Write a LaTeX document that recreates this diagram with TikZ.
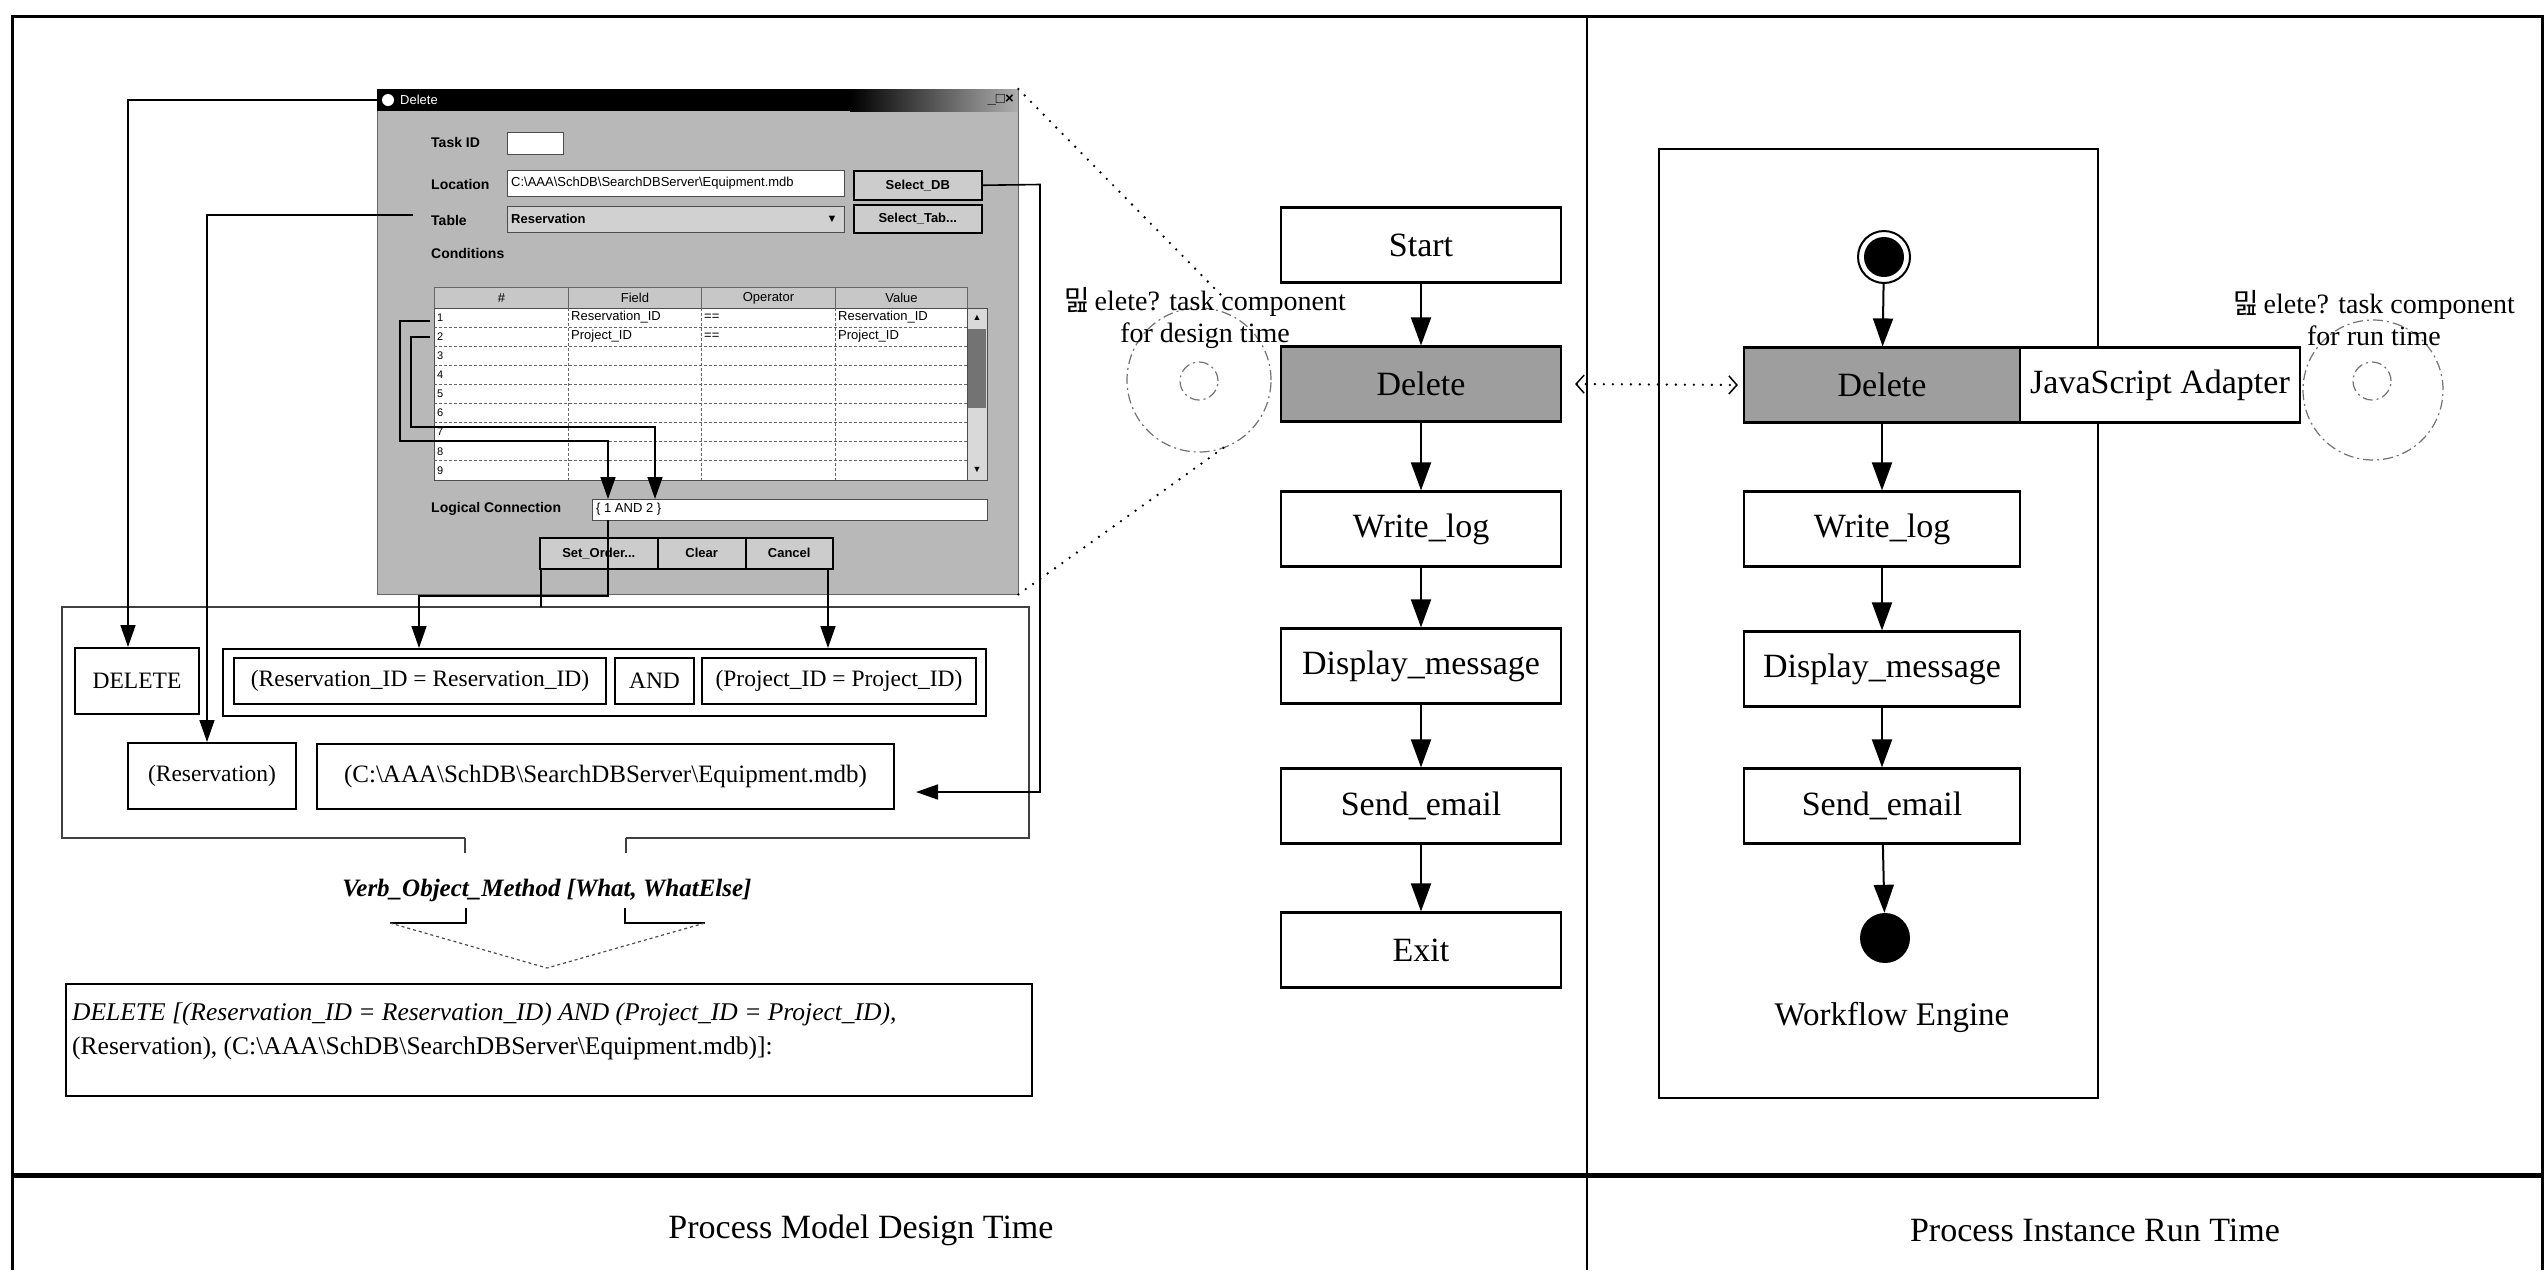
\documentclass[tikz,border=0pt]{standalone}
\usepackage{fontspec}
\setmainfont{Liberation Serif}
\newfontfamily\uifont{Liberation Sans}
\newfontfamily\krfont{Noto Sans CJK KR}
\usetikzlibrary{arrows.meta,calc}

% place a rectangular node by its top-left and bottom-right corners
\newcommand\rectnode[7]{%
  \node[#1, anchor=north west, minimum width={(#5-#3)*1pt}, minimum height={(#6-#4)*1pt}] (#2) at (#3,#4) {#7};}

\tikzset{
  frameline/.style={line width=3pt},
  flowbox/.style={draw, line width=2.2pt, fill=white, minimum width=280pt, minimum height=75pt,
    inner sep=0pt, font=\fontsize{34}{37}\selectfont},
  activebox/.style={flowbox, fill=black!38},
  flowarrow/.style={line width=2pt, -{Triangle[length=28pt,width=20pt]}},
  thinarrow/.style={line width=1.6pt, -{Triangle[length=22pt,width=15pt]}},
  wire/.style={line width=1.6pt},
  termbox/.style={draw, line width=2pt, inner sep=0pt, font=\fontsize{23.5}{27}\selectfont},
  dots/.style={line width=2.6pt, line cap=round, dash pattern=on 0pt off 9pt},
  faintring/.style={draw=black!55, line width=1.2pt, dash pattern=on 10pt off 4pt on 2pt off 4pt},
  uilabel/.style={font=\uifont\bfseries\fontsize{14}{16}\selectfont, anchor=west, inner sep=0pt},
  uitext/.style={font=\uifont\fontsize{13}{15}\selectfont, anchor=west, inner sep=0pt},
  uifield/.style={draw=black!70, line width=1pt, fill=white, inner sep=0pt},
  uibutton/.style={draw=black, line width=1.5pt, fill=black!20, inner sep=0pt,
    font=\uifont\bfseries\fontsize{13}{15}\selectfont},
  uihead/.style={draw=black!60, line width=1pt, fill=black!22, inner sep=0pt,
    font=\uifont\fontsize{13}{15}\selectfont},
  caption/.style={font=\fontsize{34}{38}\selectfont},
  tasklabel/.style={align=center, font=\fontsize{28}{32}\selectfont, inner sep=0pt},
}

\begin{document}
\begin{tikzpicture}[x=1pt,y=-1pt]
\useasboundingbox (0,0) rectangle (2544,1270);
\fill[white] (0,0) rectangle (2544,1270);

% ---------- outer frame ----------
\draw[frameline] (12,1270) -- (12,16) -- (2542,16) -- (2542,1270);
\draw[line width=2.5pt] (1587,16) -- (1587,1270);
\draw[line width=5pt] (12,1175) -- (2542,1175);
\node[caption] (designcap) at (861,1230) {Process Model Design Time};
\node[caption] (runcap) at (2095,1230) {Process Instance Run Time};

% ---------- Delete dialog window ----------
\rectnode{draw=black!60, fill=black!28}{dlg}{377}{89}{1018}{594}{}
\fill[black] (377,89) rectangle (850,111);
\shade[left color=black, right color=black!32] (850,89) rectangle (1018,111);
\node[circle, fill=white, minimum size=12pt, inner sep=0pt] (dlgicon) at (388,100) {};
\node[uitext, text=white] (dlgname) at (400,100) {Delete};
\node[anchor=east, inner sep=0pt, font=\uifont\bfseries\fontsize{15}{17}\selectfont] (winbtns) at (1014,100) {\_□×};
\coordinate (titleleft) at (377,100);

\node[uilabel] (lbltask) at (431,142) {Task ID};
\node[uilabel] (lblloc) at (431,184) {Location};
\node[uilabel] (lbltab) at (431,220) {Table};
\node[uilabel] (lblcond) at (431,253) {Conditions};
\node[uilabel] (lbllogic) at (431,509) {Logical Connection};

\rectnode{uifield}{fldtask}{507}{132}{563}{154}{}
\rectnode{uifield}{fldloc}{507}{170}{844}{196}{}
\node[uitext] (locpath) at (511,183) {C:\textbackslash AAA\textbackslash SchDB\textbackslash SearchDBServer\textbackslash Equipment.mdb};
\rectnode{uifield, fill=black!18}{fldtab}{507}{206}{844}{232}{}
\node[uitext, font=\uifont\bfseries\fontsize{13}{15}\selectfont] (tabname) at (511,219) {Reservation};
\node[inner sep=0pt, font=\uifont\fontsize{11}{12}\selectfont] (tabdrop) at (832,219) {▼};
\rectnode{uibutton}{btndb}{853}{170}{981}{199}{Select\_DB}
\rectnode{uibutton}{btntab}{853}{204}{981}{232}{Select\_Tab...}

% conditions grid
\rectnode{uihead}{hdnum}{434}{287}{568}{308}{\#}
\rectnode{uihead}{hdfield}{568}{287}{701}{308}{Field}
\rectnode{uihead}{hdop}{701}{287}{835}{308}{Operator}
\rectnode{uihead}{hdval}{835}{287}{967}{308}{Value}
\rectnode{draw=black!70, line width=1pt, fill=white}{grid}{434}{308}{967}{480}{}
\foreach \i in {1,...,8}
  \draw[black!60, line width=1pt, dash pattern=on 3pt off 2pt] (434,308+\i*19.1) -- (967,308+\i*19.1);
\foreach \cx in {568,701,835}
  \draw[black!60, line width=1pt, dash pattern=on 3pt off 2pt] (\cx,308) -- (\cx,480);
\foreach \i in {1,...,9}
  \node[uitext, font=\uifont\fontsize{11}{12}\selectfont] at (437,{308+(\i-0.5)*19.1}) {\i};
\node[uitext] (c1f) at (571,317.5) {Reservation\_ID};
\node[uitext] (c1o) at (704,317.5) {==};
\node[uitext] (c1v) at (838,317.5) {Reservation\_ID};
\node[uitext] (c2f) at (571,336.6) {Project\_ID};
\node[uitext] (c2o) at (704,336.6) {==};
\node[uitext] (c2v) at (838,336.6) {Project\_ID};
\rectnode{draw=black!70, line width=1pt, fill=black!15}{scroll}{967}{308}{987}{480}{}
\rectnode{fill=black!55, inner sep=0pt}{thumb}{968}{329}{986}{408}{}
\node[inner sep=0pt, font=\uifont\fontsize{9}{10}\selectfont] (scrollup) at (977,318) {▲};
\node[inner sep=0pt, font=\uifont\fontsize{9}{10}\selectfont] (scrolldown) at (977,470) {▼};

\rectnode{uifield}{fldlogic}{592}{499}{987}{520}{}
\node[uitext] (logictext) at (596,509.5) {\{ 1 AND 2 \}};

\rectnode{uibutton}{btnorder}{539}{537}{657}{568}{Set\_Order...}
\rectnode{uibutton}{btnclear}{657}{537}{745}{568}{Clear}
\rectnode{uibutton}{btncancel}{745}{537}{832}{568}{Cancel}

% rows of the grid feed the logical connection
\coordinate (r1) at (430,321);  \coordinate (r1a) at (400,321);
\coordinate (r1b) at (400,441); \coordinate (r1c) at (608,441);
\coordinate (r2) at (430,337);  \coordinate (r2a) at (411,337);
\coordinate (r2b) at (411,427); \coordinate (r2c) at (655,427);
\draw[thinarrow] (r1) -- (r1a) -- (r1b) -- (r1c) -- (r1c |- fldlogic.north);
\draw[thinarrow] (r2) -- (r2a) -- (r2b) -- (r2c) -- (r2c |- fldlogic.north);

% ---------- parsed command parts ----------
\draw[wire, black!75] (465,838) -- (62,838) -- (62,607) -- (1029,607) -- (1029,838) -- (626,838);
\draw[wire, black!75] (465,838) -- (465,853);
\draw[wire, black!75] (626,838) -- (626,853);

\rectnode{termbox}{tdelete}{74}{647}{198}{713}{DELETE}
\rectnode{termbox}{tcond}{222}{648}{985}{715}{}
\rectnode{termbox}{tres}{233}{657}{605}{703}{(Reservation\_ID = Reservation\_ID)}
\rectnode{termbox}{tand}{614}{657}{693}{703}{AND}
\rectnode{termbox}{tproj}{701}{657}{975}{703}{(Project\_ID = Project\_ID)}
\rectnode{termbox}{ttable}{127}{742}{295}{808}{(Reservation)}
\rectnode{termbox, font=\fontsize{25}{28}\selectfont}{tpath}{316}{743}{893}{808}{(C:\textbackslash AAA\textbackslash SchDB\textbackslash SearchDBServer\textbackslash Equipment.mdb)}

% dialog fields to command parts
\coordinate (tbend) at (128,100);
\draw[thinarrow] (titleleft) -- (tbend) -- (tbend |- tdelete.north);
\coordinate (tabsrc) at (413,215); \coordinate (tabbend) at (207,215);
\draw[thinarrow] (tabsrc) -- (tabbend) -- (tabbend |- ttable.north);
\coordinate (lgfoot) at (608,520); \coordinate (lgbend1) at (608,596); \coordinate (lgbend2) at (419,596);
\draw[thinarrow] (lgfoot) -- (lgbend1) -- (lgbend2) -- (lgbend2 |- tcond.north);
\coordinate (ordfoot) at (541,568); \coordinate (ordend) at (541,607);
\draw[wire] (ordfoot) -- (ordend);
\coordinate (canfoot) at (828,568);
\draw[thinarrow] (canfoot) -- (canfoot |- tcond.north);
\coordinate (dbbend1) at (1040,184.5); \coordinate (dbbend2) at (1040,792); \coordinate (dbtip) at (916,792);
\draw[thinarrow] (btndb.east) -- (dbbend1) -- (dbbend2) -- (dbtip);

% funnel into the method signature
\node[font=\bfseries\itshape\fontsize{25}{28}\selectfont] (verb) at (547,890) {Verb\_Object\_Method [What, WhatElse]};
\coordinate (fl1) at (466,908); \coordinate (fl2) at (466,923); \coordinate (fl3) at (390,923);
\coordinate (fr1) at (625,908); \coordinate (fr2) at (625,923); \coordinate (fr3) at (705,923);
\coordinate (fapex) at (547,968);
\draw[wire] (fl1) -- (fl2) -- (fl3);
\draw[wire] (fr1) -- (fr2) -- (fr3);
\draw[line width=1.2pt, black!70, dash pattern=on 3pt off 3pt] (fl3) -- (fapex) -- (fr3);

\rectnode{termbox}{result}{65}{983}{1031}{1095}{}
\node[anchor=north west, align=left, inner sep=0pt, font=\fontsize{25.5}{34}\selectfont] (resulttext) at (72,1003)
  {\textit{DELETE [(Reservation\_ID = Reservation\_ID) AND (Project\_ID = Project\_ID),}\\
   (Reservation), (C:\textbackslash AAA\textbackslash SchDB\textbackslash SearchDBServer\textbackslash Equipment.mdb)]:};

% ---------- design-time process ----------
\node[flowbox] (dstart) at (1421,245) {Start};
\node[activebox] (ddelete) at (1421,384) {Delete};
\node[flowbox] (dwrite) at (1421,529) {Write\_log};
\node[flowbox] (ddisplay) at (1421,666) {Display\_message};
\node[flowbox] (dsend) at (1421,806) {Send\_email};
\node[flowbox] (dexit) at (1421,950) {Exit};
\draw[flowarrow] (dstart) -- (ddelete);
\draw[flowarrow] (ddelete) -- (dwrite);
\draw[flowarrow] (dwrite) -- (ddisplay);
\draw[flowarrow] (ddisplay) -- (dsend);
\draw[flowarrow] (dsend) -- (dexit);

% design-time task component
\node[circle, faintring, minimum size=144pt] (dring) at (1199,380) {};
\node[circle, faintring, minimum size=38pt] (dcore) at (1199,381) {};
\node[tasklabel] (dlabel) at (1205,318) {{\krfont 밆}\,elete? task component\\for design time};
\coordinate (zoomtop) at (1222,296);
\coordinate (zoombot) at (1226,446);
\draw[dots] (dlg.north east) -- (zoomtop);
\draw[dots] (dlg.south east) -- (zoombot);

% ---------- run-time workflow engine ----------
\rectnode{draw, line width=2.2pt}{engine}{1658}{148}{2097}{1097}{}
\node[circle, draw, line width=2pt, minimum size=52pt, inner sep=0pt] (rinit) at (1884,257) {};
\node[circle, fill=black, minimum size=40pt, inner sep=0pt] (rinitdot) at (rinit) {};
\node[activebox, minimum width=276pt] (rdelete) at (1882,385) {Delete};
\node[flowbox] (radapter) at (2160,385) {JavaScript Adapter};
\node[flowbox, minimum width=276pt] (rwrite) at (1882,529) {Write\_log};
\node[flowbox, minimum width=276pt] (rdisplay) at (1882,669) {Display\_message};
\node[flowbox, minimum width=276pt] (rsend) at (1882,806) {Send\_email};
\node[circle, fill=black, minimum size=50pt, inner sep=0pt] (rend) at (1885,938) {};
\node[font=\fontsize{33}{36}\selectfont] (enginelabel) at (1892,1017) {Workflow Engine};
\draw[flowarrow] (rinit) -- (rdelete);
\draw[flowarrow] (rdelete) -- (rwrite);
\draw[flowarrow] (rwrite) -- (rdisplay);
\draw[flowarrow] (rdisplay) -- (rsend);
\draw[flowarrow] (rsend) -- (rend);

% run-time task component
\node[circle, faintring, minimum size=140pt] (rring) at (2373,390) {};
\node[circle, faintring, minimum size=38pt] (rcore) at (2372,381) {};
\node[tasklabel] (rlabel) at (2374,318) {{\krfont 밆}\,elete? task component\\for run time};

% design task maps to run task
\draw[dots, {Straight Barb[length=8pt,width=18pt,line width=1.5pt]}-{Straight Barb[length=8pt,width=18pt,line width=1.5pt]}]
  ($(ddelete.east)+(13,0)$) -- ($(rdelete.west)+(-5,0)$);
\end{tikzpicture}
\end{document}
